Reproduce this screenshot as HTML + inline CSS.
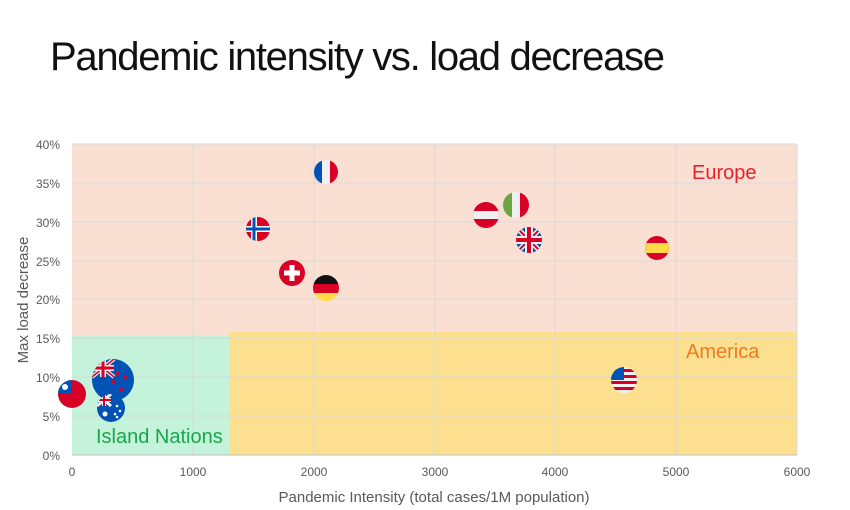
<!DOCTYPE html>
<html><head><meta charset="utf-8"><style>body{margin:0;background:#fff}svg{display:block}</style></head><body>
<svg width="850" height="510" xmlns="http://www.w3.org/2000/svg" font-family="Liberation Sans, sans-serif">
<defs>
<clipPath id="c12"><circle r="12"/></clipPath>
<clipPath id="c13"><circle r="13"/></clipPath>
<clipPath id="c14"><circle r="14"/></clipPath>
<clipPath id="c21"><circle r="21"/></clipPath>
</defs>
<text x="50" y="70" font-size="40" textLength="615" fill="#111">Pandemic intensity vs. load decrease</text>
<rect x="72" y="144" width="725" height="311" fill="#fae0d2"/>
<rect x="230" y="332" width="567" height="123" fill="#fde08f"/>
<rect x="72" y="335" width="158" height="120" fill="#c4f2da"/>
<g stroke="#d9d9d9" stroke-width="1">
<line x1="72" y1="144" x2="797" y2="144"/><line x1="72" y1="183" x2="797" y2="183"/><line x1="72" y1="222" x2="797" y2="222"/><line x1="72" y1="261" x2="797" y2="261"/><line x1="72" y1="299" x2="797" y2="299"/><line x1="72" y1="338" x2="797" y2="338"/><line x1="72" y1="377" x2="797" y2="377"/><line x1="72" y1="416" x2="797" y2="416"/>
<line x1="193" y1="144" x2="193" y2="455"/><line x1="314" y1="144" x2="314" y2="455"/><line x1="435" y1="144" x2="435" y2="455"/><line x1="555" y1="144" x2="555" y2="455"/><line x1="676" y1="144" x2="676" y2="455"/><line x1="797" y1="144" x2="797" y2="455"/>
</g>
<line x1="72" y1="455" x2="797" y2="455" stroke="#bfbfbf"/>
<g font-size="12" fill="#595959" text-anchor="end">
<text x="60" y="149">40%</text><text x="60" y="188">35%</text><text x="60" y="227">30%</text><text x="60" y="266">25%</text><text x="60" y="304">20%</text><text x="60" y="343">15%</text><text x="60" y="382">10%</text><text x="60" y="421">5%</text><text x="60" y="460">0%</text>
</g>
<g font-size="12" fill="#595959" text-anchor="middle">
<text x="72" y="476">0</text><text x="193" y="476">1000</text><text x="314" y="476">2000</text><text x="435" y="476">3000</text><text x="555" y="476">4000</text><text x="676" y="476">5000</text><text x="797" y="476">6000</text>
</g>
<text x="434" y="502" font-size="15" fill="#595959" text-anchor="middle">Pandemic Intensity (total cases/1M population)</text>
<text transform="translate(28,300) rotate(-90)" font-size="15" fill="#595959" text-anchor="middle">Max load decrease</text>
<text x="692" y="179" font-size="20" fill="#e8202a">Europe</text>
<text x="686" y="358" font-size="20" fill="#f07a20">America</text>
<text x="96" y="443" font-size="20" fill="#18a84a">Island Nations</text>
<!-- France -->
<g transform="translate(326,172)" clip-path="url(#c12)"><rect x="-12" y="-12" width="8" height="24" fill="#0052b4"/><rect x="-4" y="-12" width="8" height="24" fill="#f0f0f0"/><rect x="4" y="-12" width="8" height="24" fill="#d80027"/></g>
<!-- Norway -->
<g transform="translate(258,229)" clip-path="url(#c12)"><rect x="-12" y="-12" width="24" height="24" fill="#d80027"/><rect x="-12" y="-3" width="24" height="6" fill="#fff"/><rect x="-7" y="-12" width="6" height="24" fill="#fff"/><rect x="-12" y="-1.5" width="24" height="3" fill="#0052b4"/><rect x="-5.5" y="-12" width="3" height="24" fill="#0052b4"/></g>
<!-- Switzerland -->
<g transform="translate(292,273)"><circle r="13" fill="#d80027"/><rect x="-8" y="-2.5" width="16" height="5" fill="#fff"/><rect x="-2.5" y="-8" width="5" height="16" fill="#fff"/></g>
<!-- Germany -->
<g transform="translate(326,288)" clip-path="url(#c13)"><rect x="-13" y="-13" width="26" height="9" fill="#111"/><rect x="-13" y="-4" width="26" height="9" fill="#d80027"/><rect x="-13" y="5" width="26" height="9" fill="#ffda44"/></g>
<!-- Austria -->
<g transform="translate(486,215)" clip-path="url(#c13)"><rect x="-13" y="-13" width="26" height="26" fill="#d80027"/><rect x="-13" y="-4" width="26" height="8" fill="#f0f0f0"/></g>
<!-- Italy -->
<g transform="translate(516,205)" clip-path="url(#c13)"><rect x="-13" y="-13" width="9" height="26" fill="#6da544"/><rect x="-4" y="-13" width="8" height="26" fill="#f0f0f0"/><rect x="4" y="-13" width="9" height="26" fill="#d80027"/></g>
<!-- UK -->
<g transform="translate(529,240)" clip-path="url(#c13)"><rect x="-13" y="-13" width="26" height="26" fill="#0052b4"/><path d="M-13-13L13 13M13-13L-13 13" stroke="#f0f0f0" stroke-width="5"/><path d="M-13-13L13 13M13-13L-13 13" stroke="#d80027" stroke-width="2"/><rect x="-13" y="-4" width="26" height="8" fill="#f0f0f0"/><rect x="-4" y="-13" width="8" height="26" fill="#f0f0f0"/><rect x="-13" y="-2" width="26" height="4" fill="#d80027"/><rect x="-2" y="-13" width="4" height="26" fill="#d80027"/></g>
<!-- Spain -->
<g transform="translate(657,248)" clip-path="url(#c12)"><rect x="-12" y="-12" width="24" height="24" fill="#d80027"/><rect x="-12" y="-5" width="24" height="10" fill="#ffda44"/></g>
<!-- USA -->
<g transform="translate(624,380)" clip-path="url(#c13)"><rect x="-13" y="-13" width="26" height="26" fill="#f0f0f0"/><rect x="-13" y="-11" width="26" height="3" fill="#d80027"/><rect x="-13" y="-5" width="26" height="3" fill="#d80027"/><rect x="-13" y="1" width="26" height="3" fill="#d80027"/><rect x="-13" y="7" width="26" height="3" fill="#d80027"/><rect x="-13" y="-13" width="13" height="13" fill="#0052b4"/></g>
<!-- Taiwan -->
<g transform="translate(72,394)" clip-path="url(#c14)"><rect x="-14" y="-14" width="28" height="28" fill="#d80027"/><rect x="-14" y="-14" width="14" height="14" fill="#0052b4"/><circle cx="-7" cy="-7" r="3" fill="#fff"/></g>
<!-- New Zealand -->
<g transform="translate(113,380)" clip-path="url(#c21)"><rect x="-21" y="-21" width="42" height="42" fill="#0052b4"/><g transform="translate(-10,-12)"><rect x="-11" y="-9" width="22" height="18" fill="#0052b4"/><path d="M-11-9L11 9M11-9L-11 9" stroke="#f0f0f0" stroke-width="4"/><path d="M-11-9L11 9M11-9L-11 9" stroke="#d80027" stroke-width="1.5"/><rect x="-11" y="-3" width="22" height="6" fill="#f0f0f0"/><rect x="-3" y="-9" width="6" height="18" fill="#f0f0f0"/><rect x="-11" y="-1.5" width="22" height="3" fill="#d80027"/><rect x="-1.5" y="-9" width="3" height="18" fill="#d80027"/></g><circle cx="4" cy="-7" r="2" fill="#d80027"/><circle cx="12" cy="-3" r="2" fill="#d80027"/><circle cx="8" cy="10" r="2" fill="#d80027"/><circle cx="0" cy="2" r="2" fill="#d80027"/></g>
<!-- Australia -->
<g transform="translate(111,408)" clip-path="url(#c14)"><rect x="-14" y="-14" width="28" height="28" fill="#0052b4"/><g transform="translate(-7,-8)"><path d="M-7-6L7 6M7-6L-7 6" stroke="#f0f0f0" stroke-width="3"/><rect x="-7" y="-2" width="14" height="4" fill="#f0f0f0"/><rect x="-2" y="-6" width="4" height="12" fill="#f0f0f0"/><rect x="-7" y="-1" width="14" height="2" fill="#d80027"/><rect x="-1" y="-6" width="2" height="12" fill="#d80027"/></g><circle cx="-6" cy="6" r="2.5" fill="#fff"/><circle cx="6" cy="-2" r="1.3" fill="#fff"/><circle cx="9" cy="3" r="1.3" fill="#fff"/><circle cx="4" cy="6" r="1.3" fill="#fff"/><circle cx="6" cy="9" r="1.3" fill="#fff"/></g>
</svg>
</body></html>
